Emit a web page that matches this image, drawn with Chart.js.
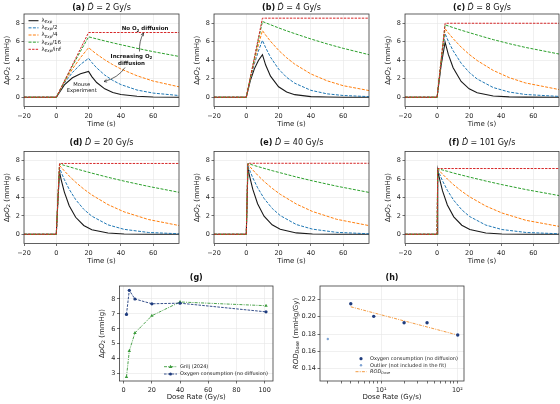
<!DOCTYPE html>
<html>
<head>
<meta charset="utf-8">
<title>pO2 after irradiation</title>
<script src="https://cdn.jsdelivr.net/npm/chart.js@4.4.1/dist/chart.umd.min.js"></script>
<style>
  html, body { margin: 0; padding: 0; background: #fff; }
  body { width: 560px; height: 404px; position: relative; overflow: hidden; }
  canvas { position: absolute; }
</style>
</head>
<body>
<script>
const FAMILY = '"DejaVu Sans", sans-serif';
Chart.defaults.font.family = FAMILY;
Chart.defaults.color = '#262626';

// dose rates (Gy/s), one per time panel
const doseRates = [2, 4, 8, 20, 40, 101];

// (a) 2 Gy/s
const aTime = [-20, 0, 5, 10, 15, 20, 22, 25, 30, 35, 40, 50, 60, 77];
const aExp = [0, 0, 1.34, 2.11, 2.54, 2.79, 2.23, 1.59, 0.91, 0.52, 0.30, 0.10, 0.03, 0.005];
const aHalf = [0, 0, 1.53, 2.68, 3.55, 4.21, 3.76, 3.18, 2.40, 1.82, 1.37, 0.78, 0.45, 0.17];
const aQuarter = [0, 0, 1.63, 3.05, 4.29, 5.36, 5.07, 4.66, 4.05, 3.52, 3.06, 2.32, 1.75, 1.09];
const aSixteenth = [0, 0, 1.72, 3.38, 4.98, 6.53, 6.44, 6.31, 6.09, 5.88, 5.68, 5.29, 4.93, 4.38];
const aNoDiff = [0, 0, 1.75, 3.5, 5.25, 7.0, 7.0, 7.0, 7.0, 7.0, 7.0, 7.0, 7.0, 7.0];

// (b) 4 Gy/s
const bTime = [-20, 0, 2.5, 5, 7.5, 10, 12, 15, 20, 25, 30, 40, 50, 60, 77];
const bExp = [0, 0, 1.80, 3.07, 3.97, 4.60, 3.48, 2.28, 1.13, 0.56, 0.28, 0.07, 0.02, 0, 0];
const bHalf = [0, 0, 1.96, 3.61, 4.99, 6.15, 5.35, 4.33, 3.05, 2.15, 1.52, 0.75, 0.37, 0.19, 0.06];
const bQuarter = [0, 0, 2.05, 3.92, 5.64, 7.21, 6.72, 6.05, 5.08, 4.27, 3.58, 2.52, 1.78, 1.25, 0.69];
const bSixteenth = [0, 0, 2.12, 4.18, 6.20, 8.19, 8.05, 7.84, 7.50, 7.18, 6.88, 6.30, 5.77, 5.29, 4.56];
const bNoDiff = [0, 0, 2.14, 4.28, 6.41, 8.55, 8.55, 8.55, 8.55, 8.55, 8.55, 8.55, 8.55, 8.55, 8.55];

// (c) 8 Gy/s
const cTime = [-20, 0, 2.5, 5, 7, 10, 15, 20, 25, 35, 45, 55, 77];
const cExp = [0, 0, 3.44, 5.95, 4.63, 3.19, 1.70, 0.91, 0.49, 0.14, 0.04, 0.01, 0];
const cHalf = [0, 0, 3.70, 6.87, 6.06, 5.03, 3.68, 2.69, 1.97, 1.05, 0.56, 0.30, 0.08];
const cQuarter = [0, 0, 3.85, 7.41, 6.96, 6.34, 5.42, 4.64, 3.97, 2.90, 2.12, 1.55, 0.80];
const cSixteenth = [0, 0, 3.96, 7.83, 7.71, 7.53, 7.25, 6.99, 6.73, 6.23, 5.79, 5.39, 4.64];
const cNoDiff = [0, 0, 4.0, 8.0, 8.0, 8.0, 8.0, 8.0, 8.0, 8.0, 8.0, 8.0, 8.0];

// (d) 20 Gy/s
const dTime = [-20, 0, 1, 2, 3, 5, 8, 12, 17, 22, 32, 42, 57, 77];
const dExp = [0, 0, 3.61, 6.78, 5.95, 4.59, 3.11, 1.85, 0.96, 0.50, 0.14, 0.04, 0.005, 0];
const dHalf = [0, 0, 3.73, 7.22, 6.77, 5.94, 4.89, 3.77, 2.72, 1.97, 1.03, 0.54, 0.20, 0.05];
const dQuarter = [0, 0, 3.80, 7.49, 7.28, 6.89, 6.33, 5.66, 4.92, 4.28, 3.23, 2.44, 1.61, 0.92];
const dSixteenth = [0, 0, 3.84, 7.65, 7.60, 7.49, 7.34, 7.13, 6.89, 6.65, 6.20, 5.78, 5.21, 4.53];
const dNoDiff = [0, 0, 3.85, 7.7, 7.7, 7.7, 7.7, 7.7, 7.7, 7.7, 7.7, 7.7, 7.7, 7.7];

// (e) 40 Gy/s
const eTime = [-20, 0, 1, 2, 4, 7, 11, 16, 21, 31, 41, 56, 77];
const eExp = [0, 0, 7.24, 6.36, 4.90, 3.32, 1.97, 1.03, 0.54, 0.15, 0.04, 0.01, 0];
const eHalf = [0, 0, 7.47, 7.00, 6.15, 5.06, 3.90, 2.82, 2.04, 1.06, 0.56, 0.21, 0.05];
const eQuarter = [0, 0, 7.61, 7.40, 7.00, 6.43, 5.75, 5.00, 4.35, 3.29, 2.48, 1.63, 0.91];
const eSixteenth = [0, 0, 7.69, 7.64, 7.53, 7.37, 7.17, 6.92, 6.69, 6.23, 5.81, 5.23, 4.52];
const eNoDiff = [0, 0, 7.72, 7.72, 7.72, 7.72, 7.72, 7.72, 7.72, 7.72, 7.72, 7.72, 7.72];

// (f) 101 Gy/s
const fTime = [-20, 0, 0.4, 1.4, 3.4, 6.4, 10.4, 15.4, 20.4, 30.4, 40.4, 55.4, 77];
const fExp = [0, 0, 6.97, 6.12, 4.72, 3.19, 1.90, 0.99, 0.52, 0.14, 0.04, 0.01, 0];
const fHalf = [0, 0, 7.06, 6.61, 5.81, 4.78, 3.69, 2.66, 1.92, 1.00, 0.52, 0.20, 0.05];
const fQuarter = [0, 0, 7.11, 6.91, 6.54, 6.01, 5.37, 4.67, 4.06, 3.07, 2.32, 1.52, 0.83];
const fSixteenth = [0, 0, 7.14, 7.09, 6.99, 6.85, 6.65, 6.43, 6.21, 5.79, 5.40, 4.86, 4.18];
const fNoDiff = [0, 0, 7.15, 7.15, 7.15, 7.15, 7.15, 7.15, 7.15, 7.15, 7.15, 7.15, 7.15];

const timeTicks = [-20, 0, 20, 40, 60];
const pO2Ticks = [0, 2, 4, 6, 8];
const lambdaLabels = ['', '/2', '/4', '/16', '/inf'];

// (g) peak pO2 vs dose rate
const grilj = [2.78, 4.52, 5.73, 6.88, 7.8, 7.55];
const consumption = [6.97, 8.58, 8.0, 7.68, 7.72, 7.14];
const doseTicks = [0, 20, 40, 60, 80, 100];
const gTicks = [3, 4, 5, 6, 7, 8];

// (h) ROD per dose
const rodDoses = [4, 8, 20, 40, 101];
const rodDose = [0.215, 0.2004, 0.193, 0.193, 0.1788];
const outlierDose = [2];
const outlierRod = [0.1742];
const fitDoses = [4, 101];
const rodFit = [0.2114, 0.1788];
const logTicks = [2, 3, 4, 5, 6, 7, 8, 9, 10, 20, 30, 40, 50, 60, 70, 80, 90, 100];
const rodTicks = [0.14, 0.16, 0.18, 0.20, 0.22];

const curveStyles = [
  { color: '#1a1a1a', dash: [], width: 1.1 },
  { color: '#1f77b4', dash: [3, 1.4], width: 1 },
  { color: '#ff7f0e', dash: [3, 1.4], width: 1 },
  { color: '#2ca02c', dash: [3, 1.4], width: 1 },
  { color: '#d62728', dash: [2.4, 1.2], width: 1 }
];
const NAVY = '#1f3c7e';
const GREEN = '#3a9a3a';

function font(size, style) {
  return (style ? style + ' ' : '') + size + 'px ' + FAMILY;
}

// text made of runs: [text, size, style, yOffset]
function drawRuns(ctx, runs, x, y, align) {
  let w = 0;
  runs.forEach(r => { ctx.font = font(r[1], r[2]); w += ctx.measureText(r[0]).width; });
  let cx = align === 'center' ? x - w / 2 : (align === 'right' ? x - w : x);
  ctx.textAlign = 'left';
  ctx.textBaseline = 'middle';
  runs.forEach(r => {
    ctx.font = font(r[1], r[2]);
    ctx.fillText(r[0], cx, y + (r[3] || 0));
    cx += ctx.measureText(r[0]).width;
  });
}

function points(xs, ys) {
  return xs.map((x, i) => ({ x: x, y: ys[i] }));
}

function minusSign(v) {
  return String(v).replace('-', '\u2212');
}

function curvedArrow(ctx, p0, c, p1) {
  ctx.beginPath();
  ctx.moveTo(p0[0], p0[1]);
  ctx.quadraticCurveTo(c[0], c[1], p1[0], p1[1]);
  ctx.stroke();
  const ang = Math.atan2(p1[1] - c[1], p1[0] - c[0]);
  ctx.beginPath();
  ctx.moveTo(p1[0] - 3.2 * Math.cos(ang - 0.45), p1[1] - 3.2 * Math.sin(ang - 0.45));
  ctx.lineTo(p1[0], p1[1]);
  ctx.lineTo(p1[0] - 3.2 * Math.cos(ang + 0.45), p1[1] - 3.2 * Math.sin(ang + 0.45));
  ctx.stroke();
}

function axis(o) {
  return {
    type: o.type || 'linear',
    min: o.min,
    max: o.max,
    afterFit: o.fit,
    afterBuildTicks: s => { s.ticks = o.ticks.map(v => ({ value: v })); },
    ticks: {
      autoSkip: false, maxRotation: 0, padding: o.pad,
      font: { size: 6.5 }, color: '#262626',
      callback: o.label || (v => minusSign(v))
    },
    grid: {
      color: o.gridColor || '#e6e6e6', lineWidth: 0.6,
      tickColor: '#333', tickLength: 2.5, tickWidth: 0.7
    },
    border: { display: false }
  };
}

function buildPanel(p) {
  const r = p.rect;
  const box = { x: Math.floor(r.l - 32), y: Math.max(0, Math.floor(p.titleY - 8)) };
  box.w = Math.min(560, Math.ceil(r.r + 6)) - box.x;
  box.h = Math.min(404, Math.ceil(r.b + 24)) - box.y;

  const cv = document.createElement('canvas');
  cv.width = box.w;
  cv.height = box.h;
  cv.style.left = box.x + 'px';
  cv.style.top = box.y + 'px';
  cv.style.width = box.w + 'px';
  cv.style.height = box.h + 'px';
  document.body.appendChild(cv);

  const P = (x, y) => [x - box.x, y - box.y];

  const decor = {
    id: 'decor',
    afterDraw(chart) {
      const ctx = chart.ctx;
      const a = chart.chartArea;
      ctx.save();
      ctx.strokeStyle = '#3a3a3a';
      ctx.lineWidth = 0.8;
      ctx.strokeRect(a.left, a.top, a.right - a.left, a.bottom - a.top);
      ctx.fillStyle = '#111';
      const cx = (a.left + a.right) / 2;
      drawRuns(ctx, p.title, cx, p.titleY - box.y, 'center');
      ctx.fillStyle = '#1a1a1a';
      drawRuns(ctx, p.xTitle, cx, a.bottom + p.xTitleGap, 'center');
      ctx.translate(a.left - p.yTitleGap, (a.top + a.bottom) / 2);
      ctx.rotate(-Math.PI / 2);
      drawRuns(ctx, p.yTitle, 0, 0, 'center');
      ctx.restore();
      if (p.extra) {
        ctx.save();
        p.extra(ctx, P);
        ctx.restore();
      }
    }
  };

  p.x.fit = s => { s.height = box.y + box.h - r.b; };
  p.y.fit = s => { s.width = r.l - box.x; };

  new Chart(cv, {
    type: 'line',
    data: { datasets: p.datasets },
    options: {
      responsive: false,
      animation: false,
      events: [],
      layout: { padding: { left: 0, bottom: 0, top: r.t - box.y, right: box.x + box.w - r.r } },
      plugins: { legend: { display: false }, tooltip: { enabled: false } },
      scales: { x: axis(p.x), y: axis(p.y) }
    },
    plugins: [decor]
  });
}

const pO2Title = [['\u0394', 7], ['pO', 7, 'italic'], ['2', 5, '', 1.8], [' (mmHg)', 7]];

function rateTitle(letter, rate) {
  return [['(' + letter + ')', 8, 'bold'], [' ', 8], ['\u1E0A', 8, 'italic'], [' = ' + rate + ' Gy/s', 8]];
}

function annotateA(ctx, P) {
  // legend
  lambdaLabels.forEach((lab, i) => {
    const y = 20.7 + i * 7.15;
    const s = curveStyles[i];
    ctx.strokeStyle = s.color;
    ctx.lineWidth = s.width;
    ctx.setLineDash(s.dash);
    ctx.beginPath();
    ctx.moveTo(...P(28.5, y));
    ctx.lineTo(...P(38.5, y));
    ctx.stroke();
    ctx.fillStyle = '#222';
    const t = P(41.5, y);
    drawRuns(ctx, [['\u03BB', 5.5], ['Exp', 4, 'italic', 1.6], [lab, 5.5]], t[0], t[1], 'left');
  });
  ctx.setLineDash([]);
  ctx.fillStyle = '#111';
  let t = P(145, 29);
  drawRuns(ctx, [['No O', 5.5, 'bold'], ['2', 4, 'bold', 1.5], [' diffusion', 5.5, 'bold']], t[0], t[1], 'center');
  t = P(131.5, 56.7);
  drawRuns(ctx, [['Increasing O', 5.5, 'bold'], ['2', 4, 'bold', 1.5]], t[0], t[1], 'center');
  t = P(131.5, 63.3);
  drawRuns(ctx, [['diffusion', 5.5, 'bold']], t[0], t[1], 'center');
  t = P(81.7, 85);
  drawRuns(ctx, [['Mouse', 5.2]], t[0], t[1], 'center');
  t = P(81.7, 90.7);
  drawRuns(ctx, [['Experiment', 5.2]], t[0], t[1], 'center');
  ctx.strokeStyle = '#222';
  ctx.lineWidth = 0.7;
  curvedArrow(ctx, P(139.5, 51.5), P(139, 41), P(143.5, 33));
  curvedArrow(ctx, P(125, 67.5), P(118, 78), P(104, 81.5));
}

function legendG(ctx, P) {
  ctx.lineWidth = 0.9;
  ctx.strokeStyle = GREEN;
  ctx.setLineDash([3, 1.2, 1, 1.2]);
  ctx.beginPath(); ctx.moveTo(...P(164, 366.7)); ctx.lineTo(...P(177, 366.7)); ctx.stroke();
  ctx.setLineDash([]);
  ctx.fillStyle = GREEN;
  let m = P(170.5, 366.7);
  ctx.beginPath(); ctx.moveTo(m[0], m[1] - 2); ctx.lineTo(m[0] + 1.9, m[1] + 1.3); ctx.lineTo(m[0] - 1.9, m[1] + 1.3); ctx.closePath(); ctx.fill();
  ctx.strokeStyle = NAVY;
  ctx.setLineDash([2.6, 1.2]);
  ctx.beginPath(); ctx.moveTo(...P(164, 374)); ctx.lineTo(...P(177, 374)); ctx.stroke();
  ctx.setLineDash([]);
  ctx.fillStyle = NAVY;
  m = P(170.5, 374);
  ctx.beginPath(); ctx.arc(m[0], m[1], 1.5, 0, Math.PI * 2); ctx.fill();
  ctx.fillStyle = '#222';
  let t = P(180, 366.7);
  drawRuns(ctx, [['Grilj (2024)', 5]], t[0], t[1], 'left');
  t = P(180, 374);
  drawRuns(ctx, [['Oxygen consumption (no diffusion)', 5]], t[0], t[1], 'left');
}

function legendH(ctx, P) {
  ctx.fillStyle = NAVY;
  let m = P(361, 358.7);
  ctx.beginPath(); ctx.arc(m[0], m[1], 1.6, 0, Math.PI * 2); ctx.fill();
  ctx.fillStyle = '#7fa3d3';
  m = P(361, 365.3);
  ctx.beginPath(); ctx.arc(m[0], m[1], 1.2, 0, Math.PI * 2); ctx.fill();
  ctx.strokeStyle = '#f28e2b';
  ctx.lineWidth = 0.9;
  ctx.setLineDash([3, 1.2, 1, 1.2]);
  ctx.beginPath(); ctx.moveTo(...P(355.5, 371.7)); ctx.lineTo(...P(366.5, 371.7)); ctx.stroke();
  ctx.setLineDash([]);
  ctx.fillStyle = '#222';
  let t = P(370, 358.7);
  drawRuns(ctx, [['Oxygen consumption (no diffusion)', 5]], t[0], t[1], 'left');
  t = P(370, 365.3);
  drawRuns(ctx, [['Outlier (not included in the fit)', 5]], t[0], t[1], 'left');
  t = P(370, 371.7);
  drawRuns(ctx, [['ROD', 5, 'italic'], ['Dose', 3.6, 'italic', 1.3]], t[0], t[1], 'left');
}

// time panels (a)-(f)
const timePanels = [
  { letter: 'a', rect: { l: 24, t: 14, r: 179, b: 106.5 }, titleY: 7.5, time: aTime, curves: [aExp, aHalf, aQuarter, aSixteenth, aNoDiff], extra: annotateA },
  { letter: 'b', rect: { l: 214, t: 14, r: 369, b: 106.5 }, titleY: 7.5, time: bTime, curves: [bExp, bHalf, bQuarter, bSixteenth, bNoDiff] },
  { letter: 'c', rect: { l: 405, t: 14, r: 559, b: 106.5 }, titleY: 7.5, time: cTime, curves: [cExp, cHalf, cQuarter, cSixteenth, cNoDiff] },
  { letter: 'd', rect: { l: 24, t: 151.5, r: 179, b: 243.5 }, titleY: 143, time: dTime, curves: [dExp, dHalf, dQuarter, dSixteenth, dNoDiff] },
  { letter: 'e', rect: { l: 214, t: 151.5, r: 369, b: 243.5 }, titleY: 143, time: eTime, curves: [eExp, eHalf, eQuarter, eSixteenth, eNoDiff] },
  { letter: 'f', rect: { l: 405, t: 151.5, r: 559, b: 243.5 }, titleY: 143, time: fTime, curves: [fExp, fHalf, fQuarter, fSixteenth, fNoDiff] }
];

timePanels.forEach((tp, k) => {
  buildPanel({
    rect: tp.rect,
    titleY: tp.titleY,
    title: rateTitle(tp.letter, doseRates[k]),
    xTitle: [['Time (s)', 7]],
    xTitleGap: 18,
    yTitle: pO2Title,
    yTitleGap: 17,
    extra: tp.extra,
    x: { min: -20, max: 76, ticks: timeTicks, pad: 3.5 },
    y: { min: -1, max: 9, ticks: pO2Ticks, pad: 1.5 },
    datasets: tp.curves.map((ys, i) => ({
      data: points(tp.time, ys),
      borderColor: curveStyles[i].color,
      borderDash: curveStyles[i].dash,
      borderWidth: curveStyles[i].width,
      pointRadius: 0,
      tension: 0,
      fill: false,
      order: 4 - i
    }))
  });
});

// (g)
buildPanel({
  rect: { l: 119.5, t: 286, r: 273, b: 381 },
  titleY: 277.5,
  title: [['(g)', 8, 'bold']],
  xTitle: [['Dose Rate (Gy/s)', 7]],
  xTitleGap: 16.5,
  yTitle: pO2Title,
  yTitleGap: 17.5,
  extra: legendG,
  x: { min: -2.95, max: 105.95, ticks: doseTicks, pad: 3 },
  y: { min: 2.51, max: 8.87, ticks: gTicks, pad: 1.5 },
  datasets: [
    {
      data: points(doseRates, grilj), borderColor: GREEN, borderWidth: 0.9,
      borderDash: [3, 1.2, 1, 1.2], pointStyle: 'triangle', pointRadius: 2,
      pointBackgroundColor: GREEN, pointBorderWidth: 0, tension: 0, order: 1
    },
    {
      data: points(doseRates, consumption), borderColor: NAVY, borderWidth: 0.9,
      borderDash: [2.6, 1.2], pointStyle: 'circle', pointRadius: 1.6,
      pointBackgroundColor: NAVY, pointBorderWidth: 0, tension: 0, order: 0
    }
  ]
});

// (h)
buildPanel({
  rect: { l: 320, t: 286, r: 464, b: 381 },
  titleY: 277.5,
  title: [['(h)', 8, 'bold']],
  xTitle: [['Dose Rate (Gy/s)', 7]],
  xTitleGap: 16.5,
  yTitle: [['ROD', 7, 'italic'], ['Dose', 5, 'italic', 1.8], [' (mmHg/Gy)', 7]],
  yTitleGap: 24,
  extra: legendH,
  x: {
    type: 'logarithmic', min: 1.58, max: 122, ticks: logTicks, pad: 3,
    label: v => (v === 10 ? '10\u00B9' : (v === 100 ? '10\u00B2' : '')),
    gridColor: c => (c.tick && (c.tick.value === 10 || c.tick.value === 100)) ? '#e6e6e6' : 'rgba(0,0,0,0)'
  },
  y: { min: 0.1258, max: 0.2354, ticks: rodTicks, pad: 1.5, label: v => v.toFixed(2) },
  datasets: [
    {
      data: points(rodDoses, rodDose), showLine: false, pointRadius: 1.7,
      pointBackgroundColor: NAVY, pointBorderWidth: 0, order: 0
    },
    {
      data: points(outlierDose, outlierRod), showLine: false, pointRadius: 1.2,
      pointBackgroundColor: '#7fa3d3', pointBorderWidth: 0, order: 1
    },
    {
      data: points(fitDoses, rodFit), borderColor: '#f28e2b', borderWidth: 0.9,
      borderDash: [3, 1.2, 1, 1.2], pointRadius: 0, tension: 0, order: 2
    }
  ]
});
</script>
</body>
</html>
